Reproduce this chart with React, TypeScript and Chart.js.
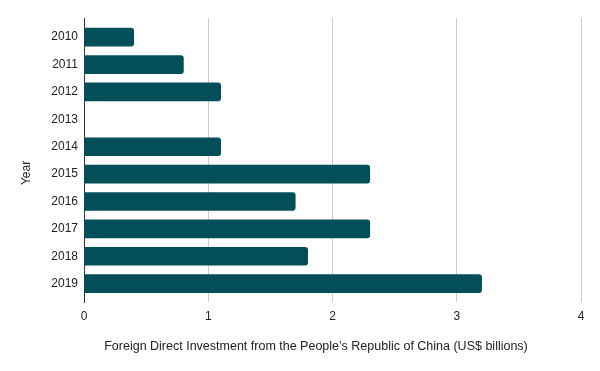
import React, { useEffect, useRef } from "react";
import { Chart, registerables } from "chart.js";

Chart.register(...registerables);

const years = ["2010", "2011", "2012", "2013", "2014", "2015", "2016", "2017", "2018", "2019"];
const fdiValues = [0.4, 0.8, 1.1, 0, 1.1, 2.3, 1.7, 2.3, 1.8, 3.2];
const xTicks = [0, 1, 2, 3, 4];
const xTitle = "Foreign Direct Investment from the People\u2019s Republic of China (US$ billions)";
const yTitle = "Year";

const FONT = "Arial, 'Liberation Sans', sans-serif";
const Y_MIN = -0.7;
const Y_MAX = 9.67;

export default function App() {
  const ref = useRef<HTMLCanvasElement | null>(null);

  useEffect(() => {
    document.body.style.margin = "0";
    const canvas = ref.current;
    if (!canvas) return;

    const titlesPlugin = {
      id: "axisTitles",
      afterDraw(chart: any) {
        const { ctx } = chart;
        ctx.save();
        ctx.fillStyle = "#222222";
        ctx.font = `12.5px ${FONT}`;
        ctx.textAlign = "center";
        ctx.textBaseline = "middle";
        ctx.fillText(xTitle, 316, 347);
        ctx.font = `12px ${FONT}`;
        ctx.translate(27, 173);
        ctx.rotate(-Math.PI / 2);
        ctx.fillText(yTitle, 0, 0);
        ctx.restore();
      },
    };

    const chart = new Chart(canvas, {
      type: "bar",
      data: {
        datasets: [
          {
            data: years.map((_, i) => ({ x: fdiValues[i], y: i })) as any,
            backgroundColor: "#024f59",
            borderRadius: 3,
            borderSkipped: "start",
            barThickness: 18,
          },
        ],
      },
      options: {
        indexAxis: "y",
        responsive: false,
        animation: false,
        layout: { padding: { left: 0, right: 19, top: 18, bottom: 0 } },
        plugins: { legend: { display: false }, tooltip: { enabled: false }, title: { display: false } },
        scales: {
          x: {
            type: "linear",
            min: 0,
            max: 4,
            bounds: "data",
            offset: false,
            afterBuildTicks: (s: any) => {
              s.ticks = xTicks.map((v) => ({ value: v }));
              s.min = 0;
              s.max = 4;
            },
            afterFit: (s: any) => {
              s.height = 69;
              s.paddingLeft = 0;
              s.paddingRight = 0;
            },
            grid: { color: "#cccccc", drawTicks: false, lineWidth: 1, offset: false },
            border: { display: false },
            ticks: { color: "#222222", font: { size: 12, family: FONT }, padding: 7 },
          },
          y: {
            type: "linear",
            reverse: true,
            min: Y_MIN,
            max: Y_MAX,
            bounds: "data",
            offset: false,
            afterBuildTicks: (s: any) => {
              s.ticks = years.map((_, i) => ({ value: i }));
              s.min = Y_MIN;
              s.max = Y_MAX;
            },
            afterFit: (s: any) => {
              s.width = 84;
              s.paddingTop = 0;
              s.paddingBottom = 0;
            },
            grid: { display: false, drawTicks: false, offset: false },
            border: { display: true, color: "#333333", width: 1 },
            ticks: {
              color: "#222222",
              font: { size: 12, family: FONT },
              padding: 6,
              callback: (v: any) => years[v] ?? "",
            },
          },
        },
      },
      plugins: [titlesPlugin],
    } as any);

    return () => chart.destroy();
  }, []);

  return (
    <div style={{ width: 600, height: 371 }}>
      <canvas ref={ref} width={600} height={371} style={{ display: "block" }} />
    </div>
  );
}
